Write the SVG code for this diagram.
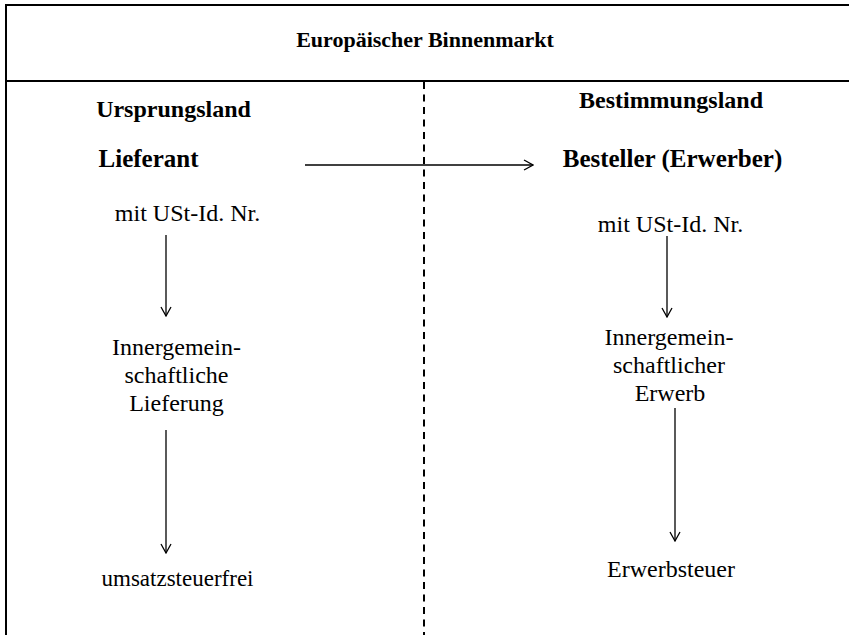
<svg xmlns="http://www.w3.org/2000/svg" width="849" height="635" viewBox="0 0 849 635">
<defs>
<style>
text{font-family:"Liberation Serif","Times New Roman",serif;font-size:24px;fill:#000;text-anchor:middle}
.b{font-weight:bold}
.t{font-size:22px}
.l{font-size:25px}
.frame{stroke:#000;stroke-width:2;fill:none}
.arr{stroke:#000;stroke-width:1.3;fill:none;marker-end:url(#ah)}
</style>
<marker id="ah" viewBox="0 0 12 12" refX="11" refY="6" markerWidth="12" markerHeight="12" markerUnits="userSpaceOnUse" orient="auto">
<polyline points="2,1 11,6 2,11" fill="none" stroke="#000" stroke-width="1.3"/>
</marker>
</defs>
<rect width="849" height="635" fill="#fff"/>
<g id="frame">
<line class="frame" x1="6" y1="5" x2="849" y2="5"/>
<line class="frame" x1="6" y1="4" x2="6" y2="635"/>
<line class="frame" x1="6" y1="81" x2="849" y2="81"/>
<line x1="424" y1="82" x2="424" y2="635" stroke="#000" stroke-width="2" stroke-dasharray="7,5.5"/>
</g>
<g id="title"><text class="b t" x="425" y="47">Europäischer Binnenmarkt</text></g>
<g id="ursprungsland"><text class="b" x="173.5" y="117">Ursprungsland</text></g>
<g id="bestimmungsland"><text class="b" x="671" y="108">Bestimmungsland</text></g>
<g id="lieferant"><text class="b l" x="148.5" y="167">Lieferant</text></g>
<g id="besteller"><text class="b l" x="672.5" y="167">Besteller (Erwerber)</text></g>
<g id="ust-left"><text x="187.5" y="221">mit USt-Id. Nr.</text></g>
<g id="ust-right"><text x="670.5" y="232">mit USt-Id. Nr.</text></g>
<g id="lieferung"><text x="176.5" y="355">Innergemein-</text><text x="176.5" y="383">schaftliche</text><text x="176.5" y="411">Lieferung</text></g>
<g id="umsatzsteuerfrei"><text x="177.5" y="586" style="font-size:23px">umsatzsteuerfrei</text></g>
<g id="erwerb"><text x="669" y="345">Innergemein-</text><text x="669" y="373">schaftlicher</text><text x="670" y="401">Erwerb</text></g>
<g id="erwerbsteuer"><text x="671" y="577">Erwerbsteuer</text></g>
<g id="connectors">
<line class="arr" x1="305" y1="165" x2="533" y2="165"/>
<line class="arr" x1="166" y1="235" x2="166" y2="316"/>
<line class="arr" x1="166" y1="430" x2="166" y2="553"/>
<line class="arr" x1="667" y1="236" x2="667" y2="317"/>
<line class="arr" x1="675" y1="408" x2="675" y2="541"/>
</g>
</svg>
